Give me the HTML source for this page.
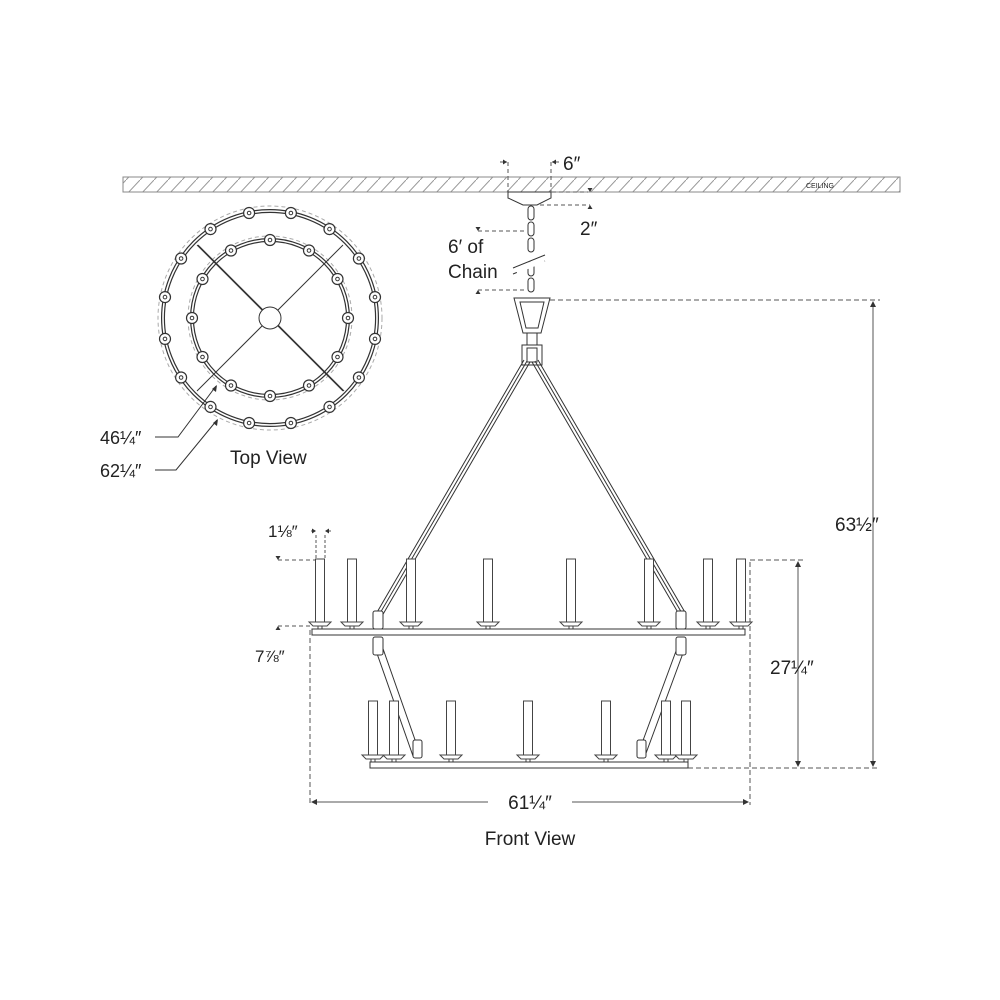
<!DOCTYPE html>
<html><head><meta charset="utf-8"><style>
html,body{margin:0;padding:0;background:#fff}
svg{display:block}
text{font-family:"Liberation Sans",sans-serif;fill:#222}
</style></head><body>
<svg width="1000" height="1000" viewBox="0 0 1000 1000" xmlns="http://www.w3.org/2000/svg">
<defs>
<pattern id="h" width="14" height="15" patternUnits="userSpaceOnUse">
<line x1="0" y1="15" x2="14" y2="0" stroke="#999" stroke-width="1"/>
</pattern>
<g id="b"><circle r="5.5" fill="#fff" stroke="#333" stroke-width="1.2"/><circle r="1.8" fill="none" stroke="#333" stroke-width="1"/></g>
<g id="c"><rect x="-4.5" y="0" width="9" height="64" fill="#fff" stroke="#444" stroke-width="1"/><path d="M-11,63 L11,63 L7,67 L-7,67 Z" fill="#fff" stroke="#444" stroke-width="1"/><line x1="-2" y1="67" x2="-2" y2="71" stroke="#444"/><line x1="2" y1="67" x2="2" y2="71" stroke="#444"/></g>
<g id="cl"><rect x="-4.5" y="0" width="9" height="55" fill="#fff" stroke="#444" stroke-width="1"/><path d="M-11,54 L11,54 L7,58 L-7,58 Z" fill="#fff" stroke="#444" stroke-width="1"/><line x1="-2" y1="58" x2="-2" y2="62" stroke="#444"/><line x1="2" y1="58" x2="2" y2="62" stroke="#444"/></g>
</defs>

<!-- ceiling -->
<rect x="123" y="177" width="777" height="15" fill="url(#h)" stroke="#888" stroke-width="1"/>
<text x="806" y="188" font-size="7" fill="#777">CEILING</text>

<!-- top dims -->
<g stroke="#555" stroke-width="1" fill="none">
<line x1="508" y1="162" x2="508" y2="192" stroke-dasharray="4,3"/>
<line x1="551" y1="162" x2="551" y2="192" stroke-dasharray="4,3"/>
<line x1="500" y1="162" x2="507" y2="162"/><line x1="552" y1="162" x2="559" y2="162"/>
<line x1="552" y1="192" x2="588" y2="192" stroke-dasharray="4,3"/>
<line x1="540" y1="205" x2="590" y2="205" stroke-dasharray="4,3"/>
<line x1="478" y1="231" x2="527" y2="231" stroke-dasharray="4,3"/>
<line x1="478" y1="290" x2="527" y2="290" stroke-dasharray="4,3"/>
<line x1="550" y1="300" x2="880" y2="300" stroke-dasharray="5,3"/>
<line x1="873" y1="302" x2="873" y2="766"/>
<line x1="688" y1="768" x2="880" y2="768" stroke-dasharray="5,3"/>
<line x1="750" y1="560" x2="805" y2="560" stroke-dasharray="5,3"/>
<line x1="798" y1="562" x2="798" y2="766"/>
<line x1="750" y1="562" x2="750" y2="805" stroke-dasharray="5,3"/>
<line x1="310" y1="630" x2="310" y2="805" stroke-dasharray="5,3"/>
<line x1="312" y1="802" x2="488" y2="802"/><line x1="572" y1="802" x2="748" y2="802"/>
<line x1="316" y1="535" x2="316" y2="560" stroke-dasharray="3,2"/>
<line x1="325" y1="535" x2="325" y2="560" stroke-dasharray="3,2"/>
<line x1="311" y1="531" x2="315" y2="531"/><line x1="326" y1="531" x2="331" y2="531"/>
<line x1="278" y1="560" x2="316" y2="560" stroke-dasharray="4,3"/>
<line x1="278" y1="626" x2="310" y2="626" stroke-dasharray="4,3"/>
</g>
<g fill="#333">
<path d="M507,162 l-4,-2.5 v5z"/><path d="M552,162 l4,-2.5 v5z"/>
<path d="M590,192 l-2.5,-4 h5z"/><path d="M590,205 l-2.5,4 h5z"/>
<path d="M478,231 l-2.5,-4 h5z"/><path d="M478,290 l-2.5,4 h5z"/>
<path d="M873,301 l-3,6 h6z"/><path d="M873,767 l-3,-6 h6z"/>
<path d="M798,561 l-3,6 h6z"/><path d="M798,767 l-3,-6 h6z"/>
<path d="M311,802 l6,-3 v6z"/><path d="M749,802 l-6,-3 v6z"/>
<path d="M316,531 l-4,-2.5 v5z"/><path d="M325,531 l4,-2.5 v5z"/>
<path d="M278,560 l-2.5,-4 h5z"/><path d="M278,626 l-2.5,4 h5z"/>
</g>

<!-- canopy + chain -->
<g stroke="#333" stroke-width="1" fill="#fff">
<path d="M508,192 L551,192 L551,198 L537,205 L523,205 L508,198 Z"/>
<rect x="528" y="206" width="6" height="14" rx="3"/>
<rect x="528" y="222" width="6" height="14" rx="3"/>
<rect x="528" y="238" width="6" height="14" rx="3"/>
<rect x="528" y="262" width="6" height="14" rx="3"/>
<rect x="528" y="278" width="6" height="14" rx="3"/>
<path d="M514,298 L550,298 L541,333 L523,333 Z"/>
<path d="M520,302 L544,302 L538,328 L526,328 Z"/>
<rect x="527" y="333" width="10" height="12"/>
<rect x="522" y="345" width="20" height="20"/>
<rect x="527" y="348" width="10" height="14"/>
</g>
<line x1="513" y1="268" x2="545" y2="255" stroke="#333" stroke-width="1"/>
<line x1="513" y1="274" x2="545" y2="261" stroke="#333" stroke-width="1"/>
<rect x="515" y="262" width="30" height="6" fill="#fff" transform="rotate(-22 530 265)"/>

<!-- upper arms -->
<g stroke="#333" stroke-width="1" fill="none">
<path d="M524,360 L376,614 M530,362 L382,616 M527,361 L379,615"/>
<path d="M538,360 L686,614 M532,362 L680,616 M535,361 L683,615"/>
<!-- lower arms -->
<path d="M374,645 L413,756 M381,643 L420,754"/>
<path d="M686,645 L645,756 M679,643 L638,754"/>
</g>
<g stroke="#333" stroke-width="1" fill="#fff">
<rect x="373" y="611" width="10" height="18" rx="2"/>
<rect x="676" y="611" width="10" height="18" rx="2"/>
<rect x="373" y="637" width="10" height="18" rx="2"/>
<rect x="676" y="637" width="10" height="18" rx="2"/>
<rect x="413" y="740" width="9" height="18" rx="2"/>
<rect x="637" y="740" width="9" height="18" rx="2"/>
</g>

<!-- upper candles -->
<use href="#c" x="320" y="559"/><use href="#c" x="352" y="559"/><use href="#c" x="411" y="559"/>
<use href="#c" x="488" y="559"/><use href="#c" x="571" y="559"/><use href="#c" x="649" y="559"/>
<use href="#c" x="708" y="559"/><use href="#c" x="741" y="559"/>
<rect x="312" y="629" width="433" height="6" fill="#fff" stroke="#333" stroke-width="1"/>
<!-- lower candles -->
<use href="#cl" x="373" y="701"/><use href="#cl" x="394" y="701"/><use href="#cl" x="451" y="701"/>
<use href="#cl" x="528" y="701"/><use href="#cl" x="606" y="701"/><use href="#cl" x="666" y="701"/>
<use href="#cl" x="686" y="701"/>
<rect x="370" y="762" width="318" height="6" fill="#fff" stroke="#333" stroke-width="1"/>

<!-- top view -->
<g fill="none">
<circle cx="270" cy="318" r="112" stroke="#aaa" stroke-width="1" stroke-dasharray="4,3"/>
<circle cx="270" cy="318" r="107" stroke="#333" stroke-width="4"/>
<circle cx="270" cy="318" r="107" stroke="#fff" stroke-width="1.6"/>
<circle cx="270" cy="318" r="82" stroke="#aaa" stroke-width="1" stroke-dasharray="4,3"/>
<circle cx="270" cy="318" r="78" stroke="#333" stroke-width="4"/>
<circle cx="270" cy="318" r="78" stroke="#fff" stroke-width="1.6"/>
</g>
<g stroke="#333" stroke-width="1">
<line x1="197" y1="245" x2="343" y2="391"/><line x1="343" y1="245" x2="197" y2="391"/>
<line x1="198" y1="245" x2="344" y2="391" stroke="#333"/>
</g>
<circle cx="270" cy="318" r="11" fill="#fff" stroke="#333" stroke-width="1"/>
<g transform="translate(270 318)">
<use href="#b" x="-20.9" y="-105"/><use href="#b" x="20.9" y="-105"/>
<use href="#b" x="-59.5" y="-88.9"/><use href="#b" x="59.5" y="-88.9"/>
<use href="#b" x="-88.9" y="-59.5"/><use href="#b" x="88.9" y="-59.5"/>
<use href="#b" x="-105" y="-20.9"/><use href="#b" x="105" y="-20.9"/>
<use href="#b" x="-20.9" y="105"/><use href="#b" x="20.9" y="105"/>
<use href="#b" x="-59.5" y="88.9"/><use href="#b" x="59.5" y="88.9"/>
<use href="#b" x="-88.9" y="59.5"/><use href="#b" x="88.9" y="59.5"/>
<use href="#b" x="-105" y="20.9"/><use href="#b" x="105" y="20.9"/>
<use href="#b" x="0" y="-78"/><use href="#b" x="0" y="78"/>
<use href="#b" x="-78" y="0"/><use href="#b" x="78" y="0"/>
<use href="#b" x="-39" y="-67.5"/><use href="#b" x="39" y="-67.5"/>
<use href="#b" x="-39" y="67.5"/><use href="#b" x="39" y="67.5"/>
<use href="#b" x="-67.5" y="-39"/><use href="#b" x="67.5" y="-39"/>
<use href="#b" x="-67.5" y="39"/><use href="#b" x="67.5" y="39"/>
</g>
<g stroke="#333" stroke-width="1" fill="none">
<path d="M155,437 L178,437 L216,386"/>
<path d="M155,470 L176,470 L217,420"/>
</g>
<path d="M217,385 l-1,7 l-4,-3z" fill="#333"/>
<path d="M218,419 l-1,7 l-4,-3z" fill="#333"/>

<!-- text -->
<text x="563" y="170" font-size="19">6″</text>
<text x="580" y="235" font-size="19">2″</text>
<text x="448" y="253" font-size="19">6′ of</text>
<text x="448" y="278" font-size="19">Chain</text>
<text x="835" y="531" font-size="19">63½″</text>
<text x="770" y="674" font-size="19">27¼″</text>
<text x="530" y="809" font-size="19" text-anchor="middle">61¼″</text>
<text x="530" y="845" font-size="19" text-anchor="middle">Front View</text>
<text x="268" y="537" font-size="17">1⅛″</text>
<text x="255" y="662" font-size="17">7⅞″</text>
<text x="100" y="444" font-size="18">46¼″</text>
<text x="100" y="477" font-size="18">62¼″</text>
<text x="230" y="464" font-size="19">Top View</text>
</svg>
</body></html>
